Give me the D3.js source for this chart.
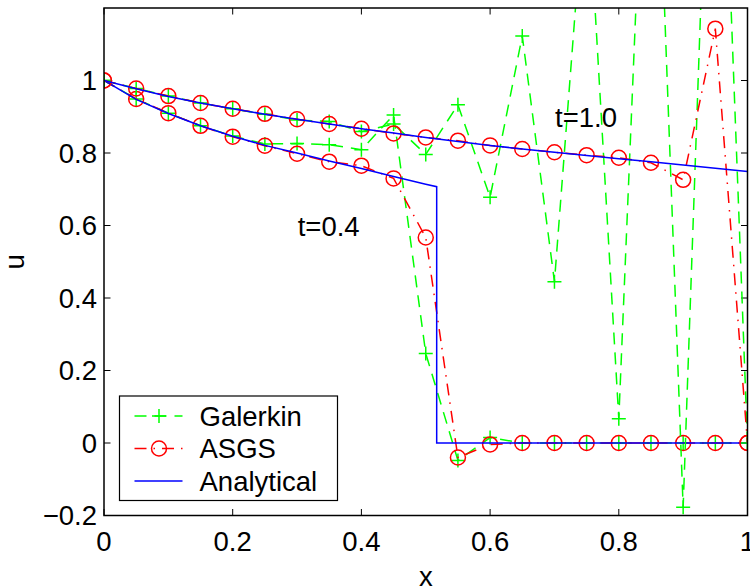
<!DOCTYPE html>
<html>
<head>
<meta charset="utf-8">
<script src="https://cdn.jsdelivr.net/npm/d3@7"></script>
<style>
  body { margin: 0; background: #fff; }
  text { font-family: "Liberation Sans", Arial, Helvetica, sans-serif; fill: #000; }
</style>
</head>
<body>
<svg id="chart"></svg>
<script>
// nodes of the mesh
var xs = [0, 0.05, 0.1, 0.15, 0.2, 0.25, 0.3, 0.35, 0.4, 0.45, 0.5,
          0.55, 0.6, 0.65, 0.7, 0.75, 0.8, 0.85, 0.9, 0.95, 1];

// galerkin solution, t=0.4 and t=1.0
var galerkin04 = [1, 0.949, 0.910, 0.875, 0.847, 0.825, 0.826, 0.823, 0.809, 0.905, 0.247,
                  -0.048, 0.015, 0, 0, 0, 0, 0, 0, 0, 0];
var galerkin10 = [1, 0.978, 0.957, 0.938, 0.922, 0.907, 0.891, 0.887, 0.859, 0.880, 0.796,
                  0.933, 0.678, 1.123, 0.445, 1.60, 0.067, 2.2, -0.177, 2.35, 0];

// asgs solution, t=0.4 and t=1.0
var asgs04 = [1, 0.949, 0.910, 0.875, 0.845, 0.820, 0.798, 0.776, 0.765, 0.730, 0.567,
              -0.040, -0.004, 0, 0, 0, 0, 0, 0, 0, 0];
var asgs10 = [1, 0.978, 0.957, 0.938, 0.922, 0.908, 0.893, 0.880, 0.867, 0.854, 0.843,
              0.834, 0.821, 0.811, 0.802, 0.794, 0.787, 0.773, 0.726, 1.143, 0];

// analytical solution (t=0.4 has the shock at x~0.517)
var xAnalytical04 = [0, 0.05, 0.1, 0.15, 0.2, 0.25, 0.3, 0.35, 0.4, 0.45, 0.5, 0.517, 0.517, 1];
var analytical04 = [1, 0.948, 0.909, 0.875, 0.846, 0.821, 0.800, 0.778, 0.757, 0.735, 0.714, 0.707, 0, 0];
var analytical10 = [1, 0.977, 0.956, 0.938, 0.922, 0.907, 0.893, 0.880, 0.867, 0.855, 0.843,
                    0.832, 0.821, 0.811, 0.802, 0.793, 0.784, 0.776, 0.767, 0.758, 0.749];

var xTicks = [0, 0.2, 0.4, 0.6, 0.8, 1];
var yTicks = [-0.2, 0, 0.2, 0.4, 0.6, 0.8, 1];
var seriesNames = ['Galerkin', 'ASGS', 'Analytical'];

// set the dimensions and margins of the graph
var margin = {top: 8, right: 2.5, bottom: 70.5, left: 104};
var width = 750 - margin.left - margin.right;
var height = 586 - margin.top - margin.bottom;
var fontSize = 27.5;

var svg = d3.select('#chart')
    .attr('width', 750)
    .attr('height', 586)
    .append('g')
    .attr('transform', 'translate(' + margin.left + ',' + margin.top + ')');

var x = d3.scaleLinear().domain([0, 1]).range([0, width]);
var y = d3.scaleLinear().domain([-0.2, 1.2]).range([height, 0]);

svg.append('clipPath').attr('id', 'plotclip')
    .append('rect').attr('width', width).attr('height', height);

var fmt = function(d){ return d < 0 ? '\u2212' + String(-d) : String(d); };

// ticks inward on all four sides
var tickLen = 6.5;
var ticks = svg.append('g').attr('stroke', '#000').attr('stroke-width', 1);
xTicks.forEach(function(t){
    ticks.append('line').attr('x1', x(t)).attr('x2', x(t)).attr('y1', height).attr('y2', height - tickLen);
    ticks.append('line').attr('x1', x(t)).attr('x2', x(t)).attr('y1', 0).attr('y2', tickLen);
});
yTicks.forEach(function(t){
    ticks.append('line').attr('x1', 0).attr('x2', tickLen).attr('y1', y(t)).attr('y2', y(t));
    ticks.append('line').attr('x1', width).attr('x2', width - tickLen).attr('y1', y(t)).attr('y2', y(t));
});

// tick labels
svg.append('g').selectAll('text').data(xTicks).enter().append('text')
    .attr('x', function(d){ return x(d); })
    .attr('y', height + 35)
    .attr('text-anchor', 'middle')
    .style('font-size', fontSize + 'px')
    .text(fmt);
svg.append('g').selectAll('text').data(yTicks).enter().append('text')
    .attr('x', -7)
    .attr('y', function(d){ return y(d); })
    .attr('dy', '0.35em')
    .attr('text-anchor', 'end')
    .style('font-size', fontSize + 'px')
    .text(fmt);

// axis labels
svg.append('text')
    .attr('x', width / 2)
    .attr('y', height + 70)
    .attr('text-anchor', 'middle')
    .style('font-size', fontSize + 'px')
    .text('x');
svg.append('text')
    .attr('transform', 'translate(' + (-80) + ',' + (height / 2) + ') rotate(-90)')
    .attr('text-anchor', 'middle')
    .style('font-size', fontSize + 'px')
    .text('u');

// the curves
var plot = svg.append('g').attr('clip-path', 'url(#plotclip)');

var styles = {
    Galerkin:   {color: '#00ff00', dash: '12,8', marker: 'plus'},
    ASGS:       {color: '#ff0000', dash: '12,7,1.5,7', marker: 'circle'},
    Analytical: {color: '#0000ff', dash: null, marker: null}
};

function zip(xv, yv){
    var xy = [];
    for (var i = 0; i < xv.length; i++){ xy.push({x: xv[i], y: yv[i]}); }
    return xy;
}

var line = d3.line()
    .x(function(d){ return x(d.x); })
    .y(function(d){ return y(d.y); });

function drawMarker(g, kind, cx, cy, color){
    if (kind == 'plus'){
        g.append('path')
            .attr('d', 'M' + (cx - 7) + ',' + cy + 'H' + (cx + 7) + 'M' + cx + ',' + (cy - 7) + 'V' + (cy + 7))
            .attr('stroke', color).attr('stroke-width', 1.5).attr('fill', 'none');
    } else if (kind == 'circle'){
        g.append('circle')
            .attr('cx', cx).attr('cy', cy).attr('r', 7.5)
            .attr('stroke', color).attr('stroke-width', 1.5).attr('fill', 'none');
    }
}

function drawSeries(name, xy){
    var st = styles[name];
    var g = plot.append('g');
    g.append('path')
        .datum(xy)
        .attr('fill', 'none')
        .attr('stroke', st.color)
        .attr('stroke-width', 1.5)
        .attr('stroke-dasharray', st.dash)
        .attr('d', line);
    if (st.marker){
        xy.forEach(function(d){ drawMarker(g, st.marker, x(d.x), y(d.y), st.color); });
    }
}

drawSeries('Galerkin', zip(xs, galerkin04));
drawSeries('ASGS', zip(xs, asgs04));
drawSeries('Analytical', zip(xAnalytical04, analytical04));
drawSeries('Galerkin', zip(xs, galerkin10));
drawSeries('ASGS', zip(xs, asgs10));
drawSeries('Analytical', zip(xs, analytical10));

// box round the axes
svg.append('rect')
    .attr('width', width).attr('height', height)
    .attr('fill', 'none').attr('stroke', '#000').attr('stroke-width', 1.5);

// time labels
svg.append('text')
    .attr('x', x(0.301)).attr('y', y(0.571))
    .style('font-size', fontSize + 'px')
    .text('t=0.4');
svg.append('text')
    .attr('x', x(0.701)).attr('y', y(0.872))
    .style('font-size', fontSize + 'px')
    .text('t=1.0');

// legend
var legend = svg.append('g').attr('transform', 'translate(' + 15.5 + ',' + 388 + ')');
legend.append('rect')
    .attr('width', 218).attr('height', 104.5)
    .attr('fill', '#fff').attr('stroke', '#000').attr('stroke-width', 1.2);
seriesNames.forEach(function(name, i){
    var st = styles[name];
    var ly = 20 + i * 32.5;
    legend.append('line')
        .attr('x1', 15).attr('x2', 63).attr('y1', ly).attr('y2', ly)
        .attr('stroke', st.color).attr('stroke-width', 1.5)
        .attr('stroke-dasharray', st.dash);
    drawMarker(legend, st.marker, 39.5, ly, st.color);
    legend.append('text')
        .attr('x', 80).attr('y', ly).attr('dy', '0.35em')
        .style('font-size', fontSize + 'px')
        .text(name);
});
</script>
</body>
</html>
